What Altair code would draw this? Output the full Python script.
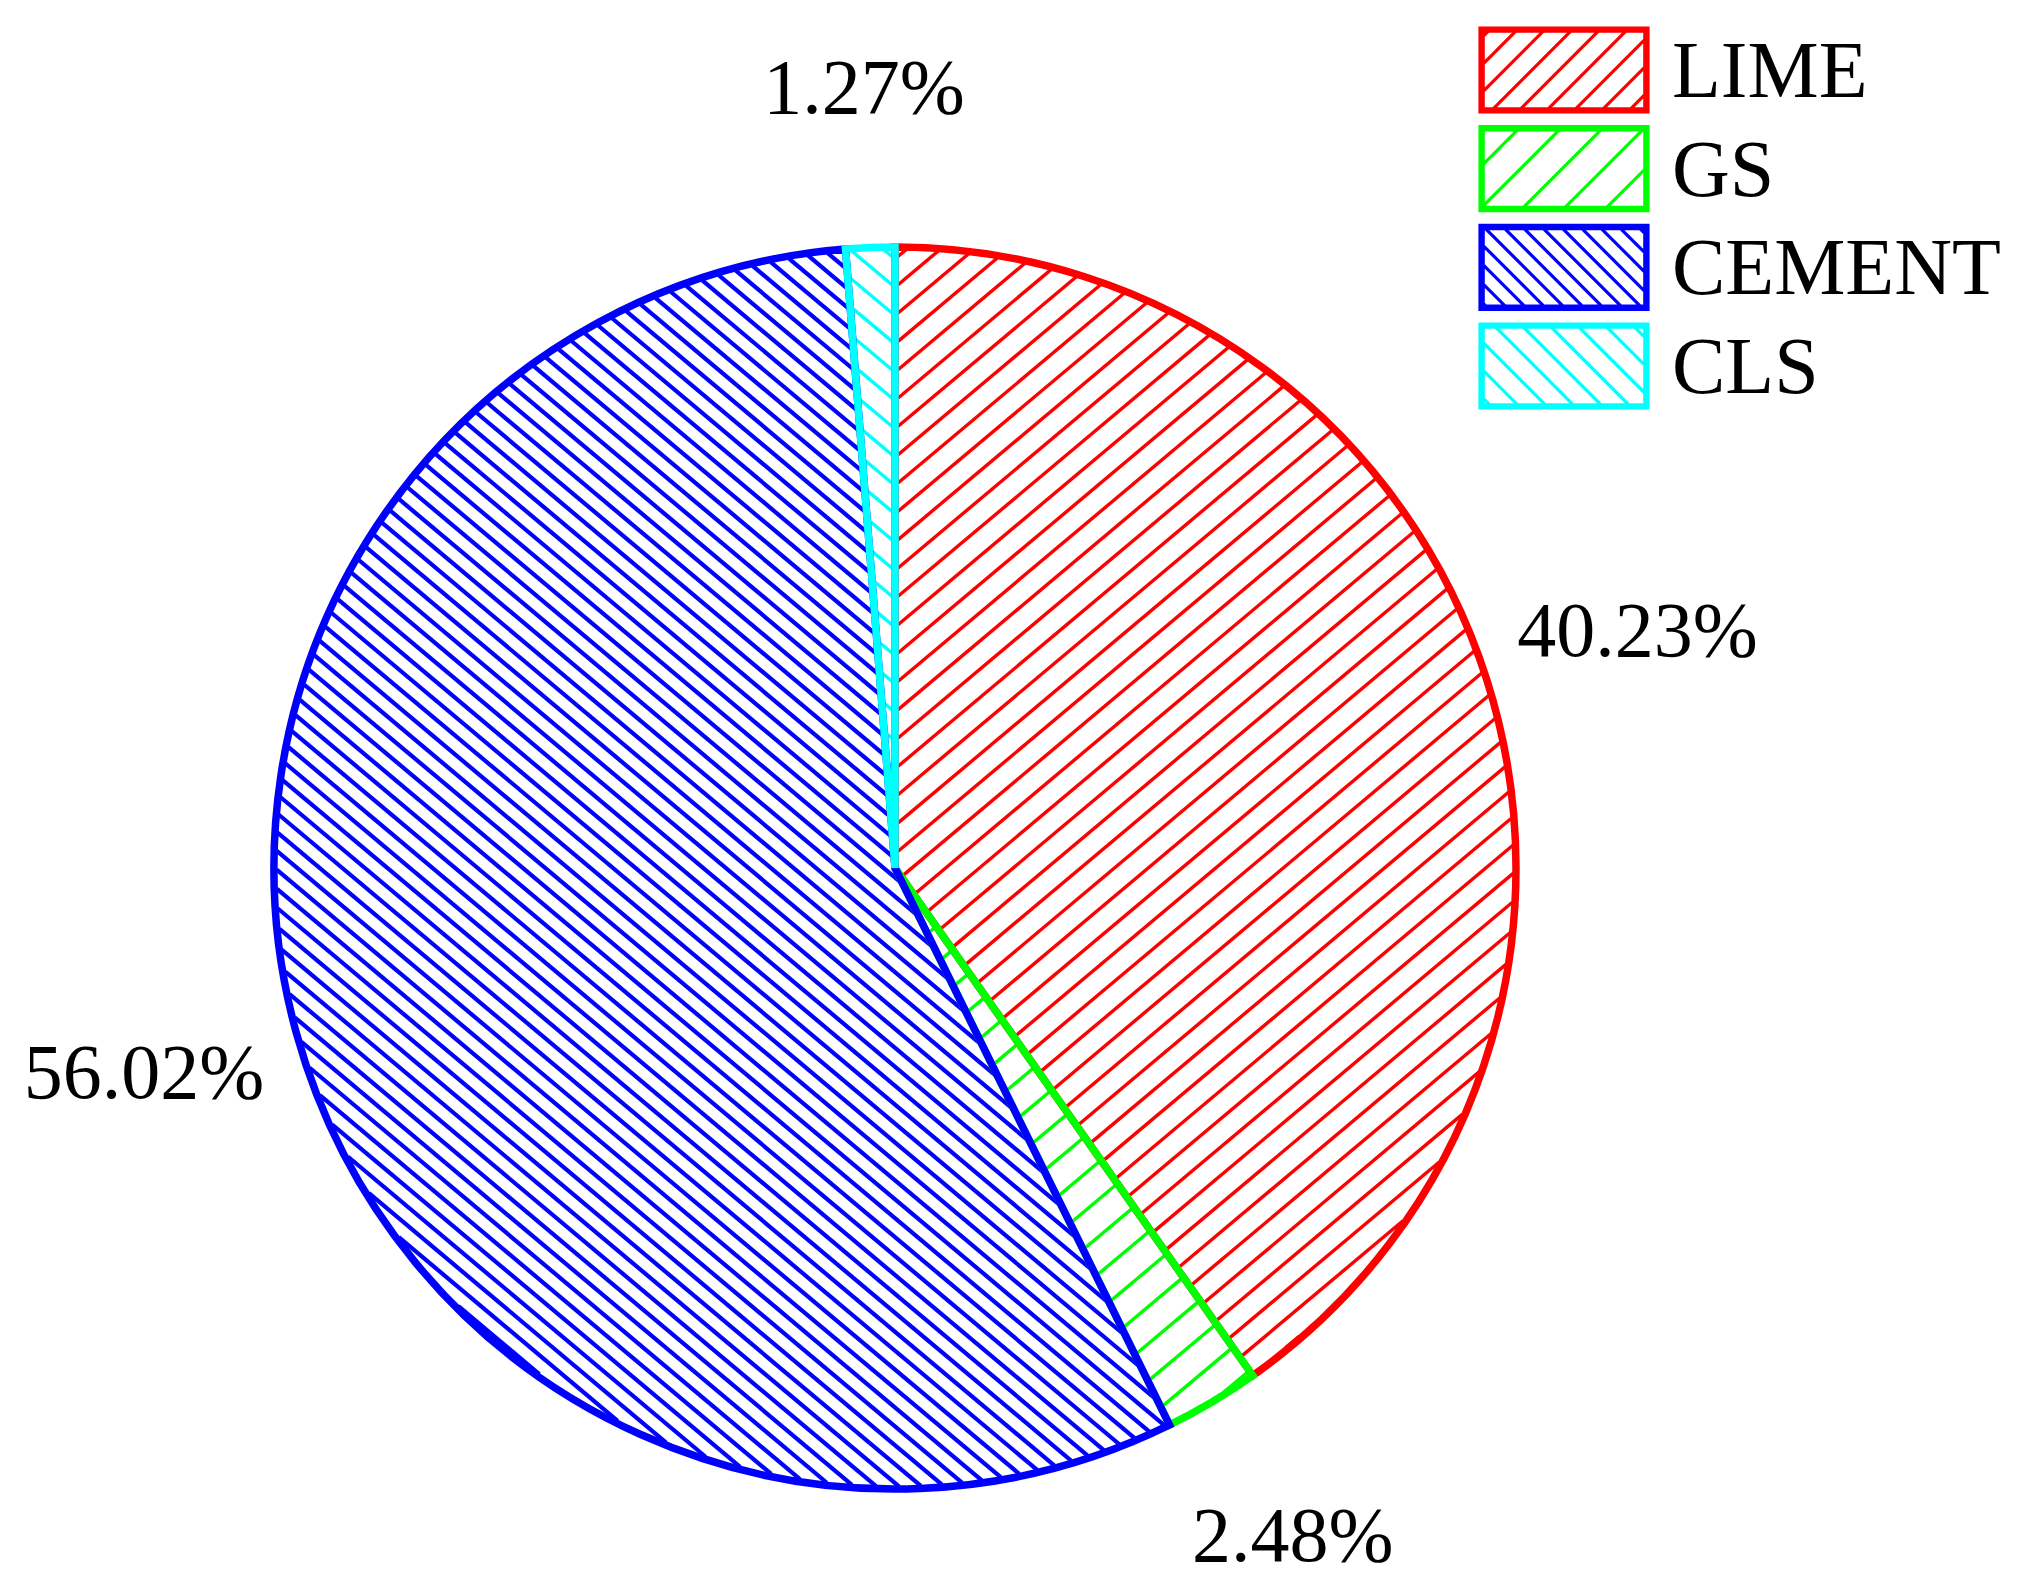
import math
import numpy as np
import pandas as pd
import altair as alt

# ---------------- data ----------------
categories = ["LIME", "GS", "CEMENT", "CLS"]
percentages = [40.23, 2.48, 56.02, 1.27]
colors = ["#ff0000", "#00ff00", "#0000ff", "#00ffff"]
hatch_dirs = ["/", "/", "\\", "\\"]
hatch_spacing = [21.7, 28.5, 14.5, 21.7]      # perpendicular spacing in the pie (px)
hatch_widths = [3.4, 3.4, 4.2, 3.4]
legend_hatch_step = [27.5, 41.7, 19.3, 27.8]   # horizontal spacing in legend boxes (px)

# ---------------- layout / style ----------------
W, H = 2000, 1575
CX, CY = 887, 860
R = 621
LABEL_R = 779
HATCH_ANGLE = 40
FONT = "Liberation Serif"
FS = 78
LEG_FS = 80
LEG_X = 1556
LEG_Y0, LEG_Y1 = 62, 358
LEG_LABEL_X = 1664

df = pd.DataFrame({
    "cat": categories,
    "value": percentages,
    "idx": list(range(len(categories))),
    "label": [f"{v:.2f}%" for v in percentages],
})

# ---------------- hatch lines inside wedges (unit circle coords) ----------------
rows = []
total = sum(percentages)
cum = 0.0
a = math.radians(HATCH_ANGLE)
ts = np.linspace(-1.05, 1.05, 5000)
for cat, pct, d, s, w in zip(categories, percentages, hatch_dirs, hatch_spacing, hatch_widths):
    t0 = 2 * math.pi * cum / total
    cum += pct
    t1 = 2 * math.pi * cum / total
    if d == "/":
        dirv = np.array([math.cos(a), -math.sin(a)])
    else:
        dirv = np.array([math.cos(a), math.sin(a)])
    nrm = np.array([-dirv[1], dirv[0]])
    su = s / R
    kmax = int(1.1 / su) + 2
    for kk in range(-kmax, kmax + 1):
        c = (kk + 0.5) * su
        px = c * nrm[0] + ts * dirv[0]
        py = c * nrm[1] + ts * dirv[1]
        r = np.hypot(px, py)
        ang = np.mod(np.arctan2(px, -py), 2 * np.pi)
        inside = (r <= 0.996) & (ang >= t0) & (ang <= t1)
        edges = np.flatnonzero(np.diff(np.concatenate([[0], inside.astype(int), [0]])))
        for st, en in zip(edges[::2], edges[1::2]):
            if en - st < 2:
                continue
            rows.append(dict(cat=cat, x=px[st], y=py[st], x2=px[en - 1], y2=py[en - 1], w=w))
hatch_df = pd.DataFrame(rows)

# ---------------- legend symbols: hatched boxes as SVG paths ----------------
SYM = 168.0
BOX_H = 84.0
half = SYM / 2


def legend_path(direction, step_px):
    hx = 1.0
    hy = BOX_H / 2 / half
    e = 3.2 / half
    parts = [
        f"M{-hx:.4f},{-hy:.4f}H{hx:.4f}V{hy:.4f}H{-hx:.4f}Z",
        f"M{-hx + e:.4f},{-hy + e:.4f}H{hx - e:.4f}V{hy - e:.4f}H{-hx + e:.4f}Z",
    ]
    x0, x1, y0, y1 = -hx + e, hx - e, -hy + e, hy - e
    st = step_px / half
    for c in np.arange(-3.0, 3.0, st):
        if direction == "/":
            xa = max(x0, c - y1)
            xb = min(x1, c - y0)
            if xb - xa > 1e-3:
                parts.append(f"M{xa:.4f},{c - xa:.4f}L{xb:.4f},{c - xb:.4f}")
        else:
            xa = max(x0, c + y0)
            xb = min(x1, c + y1)
            if xb - xa > 1e-3:
                parts.append(f"M{xa:.4f},{xa - c:.4f}L{xb:.4f},{xb - c:.4f}")
    return " ".join(parts)


legend_shapes = [legend_path(d, s) for d, s in zip(hatch_dirs, legend_hatch_step)]

stroke_scale = alt.Scale(domain=categories, range=colors)
xs = alt.Scale(domain=[-1, 1], range=[CX - R, CX + R])
ys = alt.Scale(domain=[-1, 1], range=[CY - R, CY + R])

theta = alt.Theta("value:Q", stack=True)
order = alt.Order("idx:Q")

base = alt.Chart(df)

pie_fill = base.mark_arc(radius=R, fill="white").encode(
    theta=theta, order=order, x=alt.value(CX), y=alt.value(CY)
)

hatch = alt.Chart(hatch_df).mark_rule().encode(
    x=alt.X("x:Q", scale=xs, axis=None),
    x2="x2:Q",
    y=alt.Y("y:Q", scale=ys, axis=None),
    y2="y2:Q",
    stroke=alt.Stroke("cat:N", scale=stroke_scale, legend=None),
    strokeWidth=alt.StrokeWidth("w:Q", scale=None, legend=None),
)

pie_outline = base.mark_arc(radius=R, filled=False, strokeWidth=7.5).encode(
    theta=theta, order=order, x=alt.value(CX), y=alt.value(CY),
    stroke=alt.Stroke("cat:N", scale=stroke_scale, legend=None),
)

labels = base.mark_text(
    radius=LABEL_R, font=FONT, fontSize=FS, color="black", align="center", baseline="middle"
).encode(
    theta=theta, order=order, x=alt.value(CX), y=alt.value(CY), text="label:N"
)

pie = alt.layer(pie_fill, hatch, pie_outline, labels)

# ---------------- manual legend ----------------
leg_y = alt.Y("cat:N", scale=alt.Scale(type="point", domain=categories,
                                        range=[LEG_Y0, LEG_Y1], padding=0), axis=None)

legend_boxes = base.mark_point(filled=False, strokeWidth=3.2, size=SYM * SYM, opacity=1).encode(
    x=alt.value(LEG_X),
    y=leg_y,
    shape=alt.Shape("cat:N", scale=alt.Scale(domain=categories, range=legend_shapes), legend=None),
    stroke=alt.Stroke("cat:N", scale=stroke_scale, legend=None),
)

legend_text = base.mark_text(
    font=FONT, fontSize=LEG_FS, color="black", align="left", baseline="middle", dy=3
).encode(
    x=alt.value(LEG_LABEL_X),
    y=leg_y,
    text="cat:N",
)

legend = alt.layer(legend_boxes, legend_text)

chart = alt.layer(pie, legend).resolve_scale(y="independent", x="independent").properties(
    width=W, height=H, autosize=alt.AutoSizeParams(type="none"), padding=0,
    background="white",
).configure_view(stroke=None)

chart.save("out.html", embed_options={"renderer": "svg", "actions": False})
